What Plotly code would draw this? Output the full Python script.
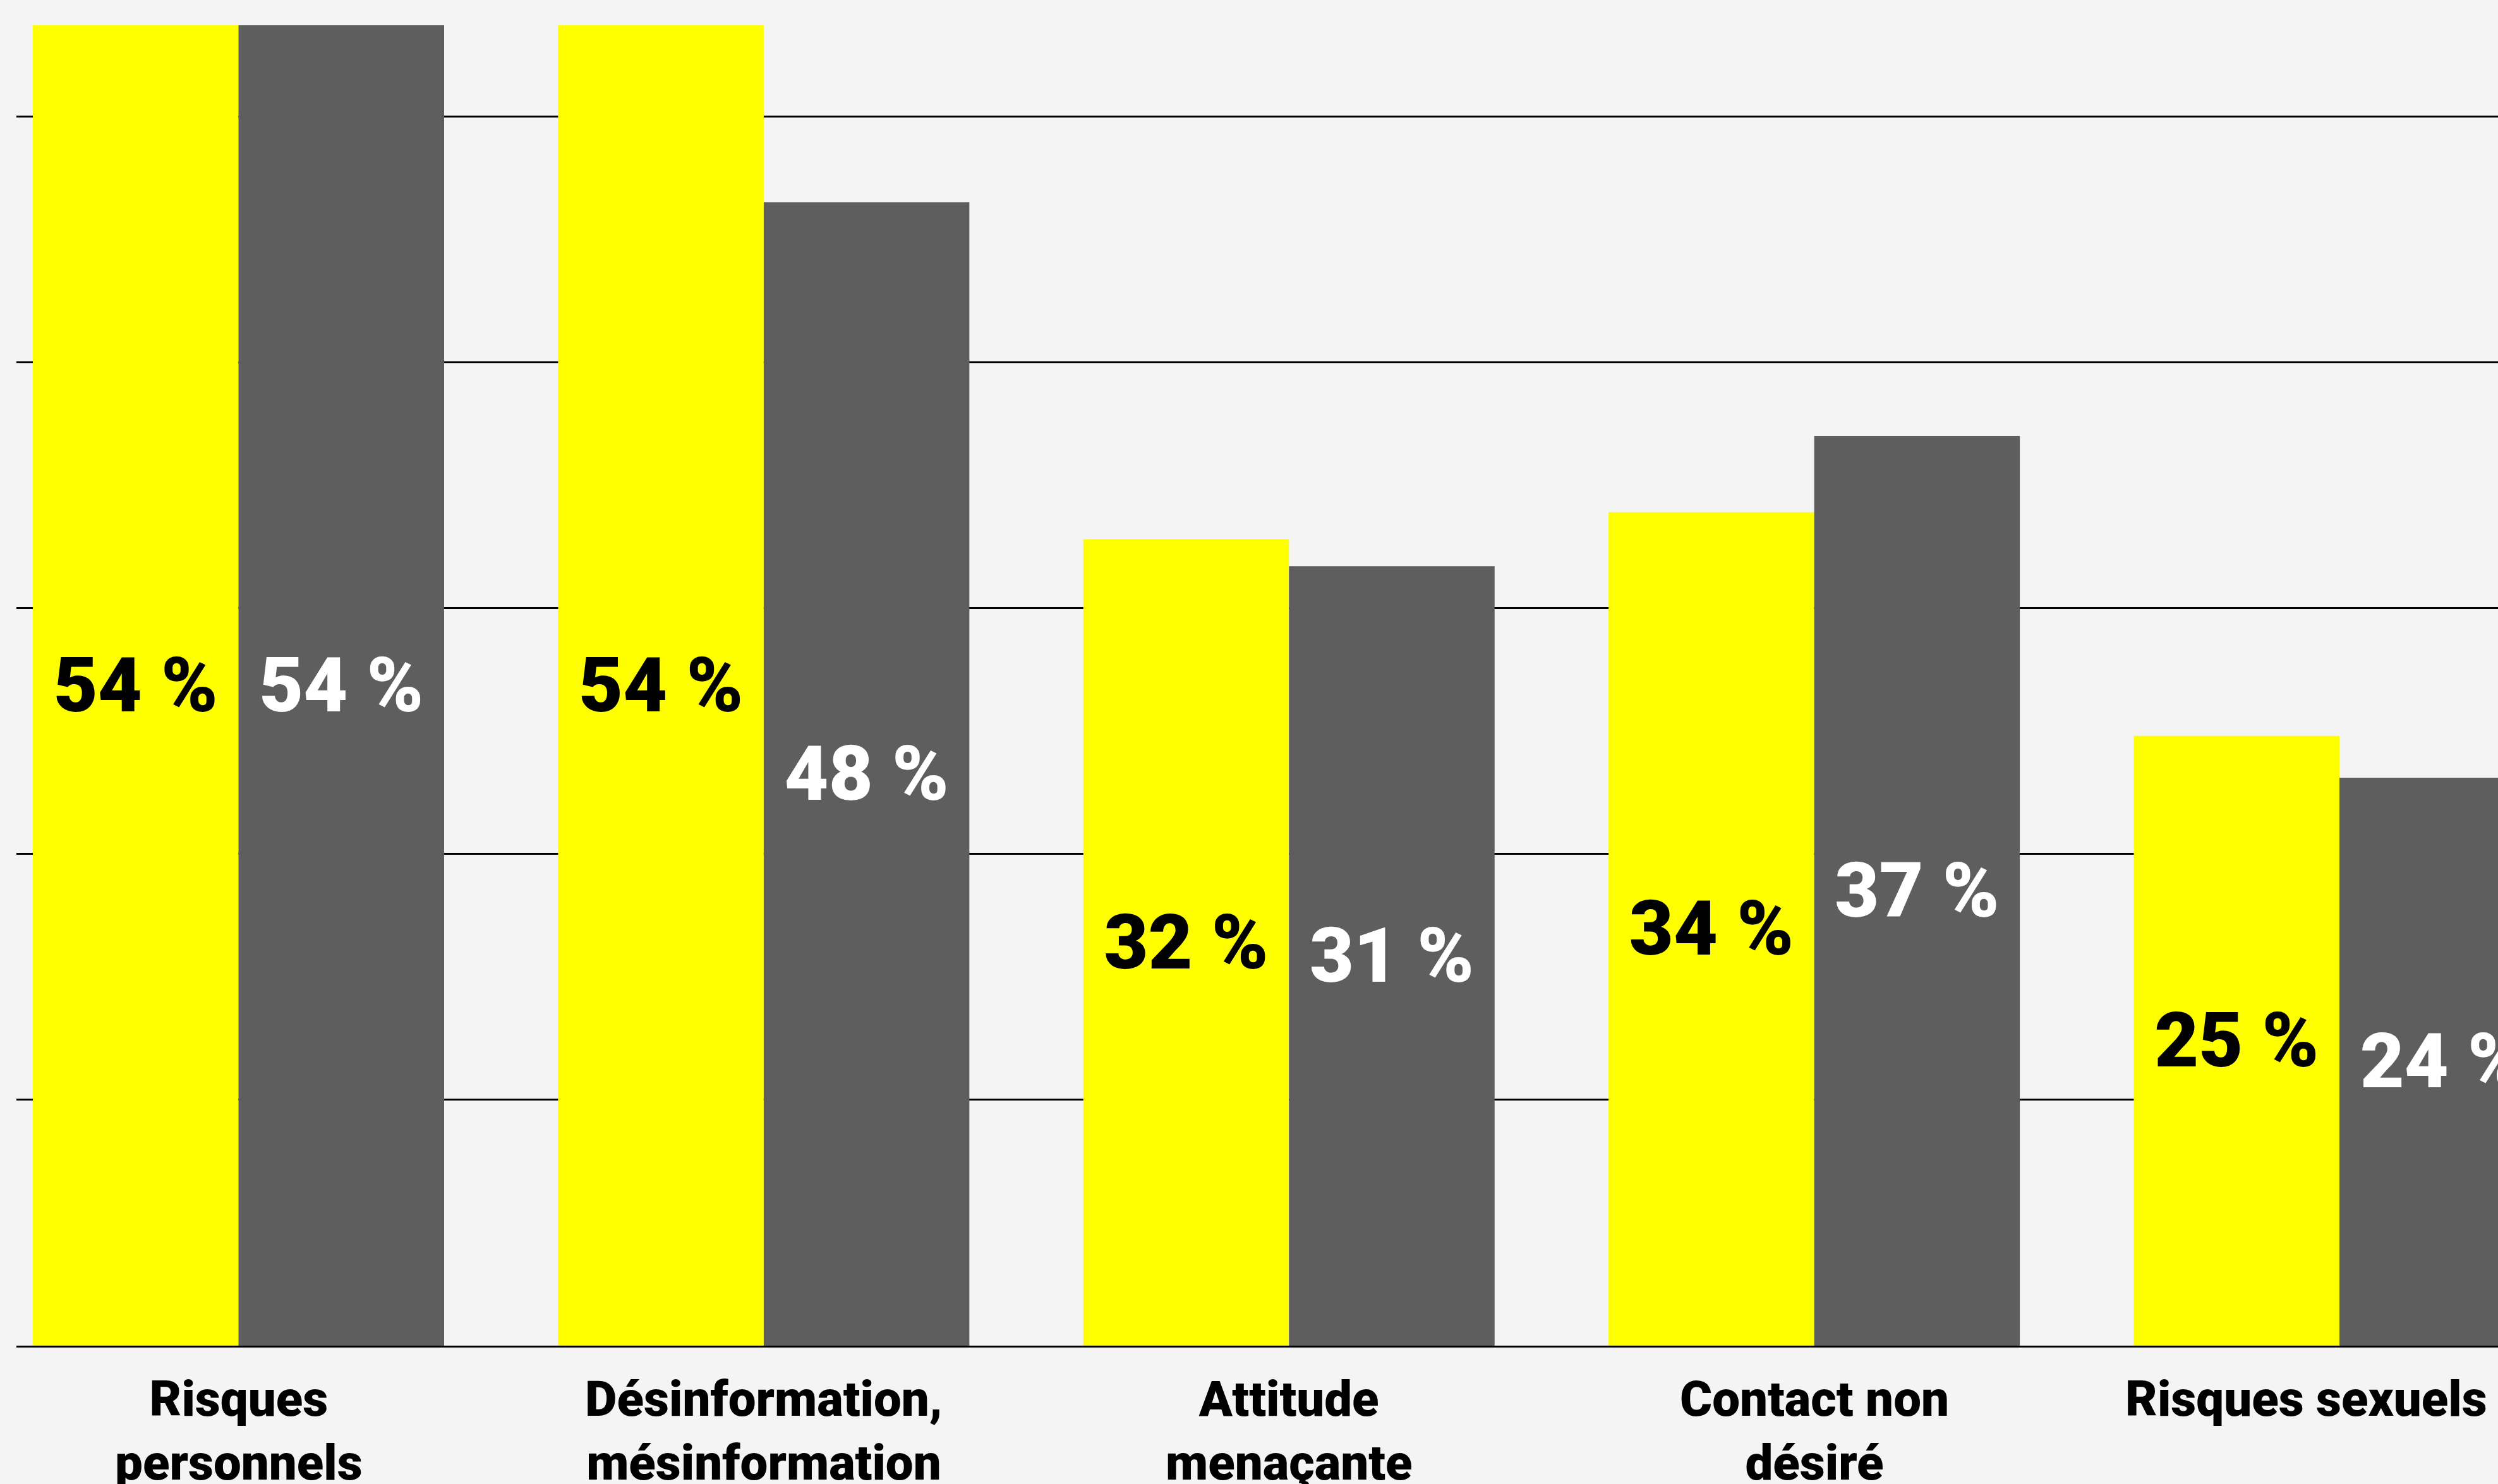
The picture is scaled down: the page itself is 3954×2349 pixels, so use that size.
import plotly.graph_objects as go

categories = ["Risques personnels", "Désinformation, mésinformation",
              "Attitude menaçante", "Contact non désiré", "Risques sexuels"]
tick_text = ["Risques<br>personnels", "Désinformation,<br>mésinformation",
             "Attitude<br>menaçante", "Contact non<br>désiré", "Risques sexuels"]
series_a = [53.7, 53.7, 32.8, 33.9, 24.8]
series_b = [53.7, 46.5, 31.7, 37.0, 23.1]
labels_a = ["54 %", "54 %", "32 %", "34 %", "25 %"]
labels_b = ["54 %", "48 %", "31 %", "37 %", "24 %"]

BG = "#f4f4f4"
YELLOW = "#ffff00"
GREY = "#5e5e5e"
FONT = "Roboto"

fig = go.Figure()
fig.add_trace(go.Bar(
    x=categories, y=series_a, text=labels_a, marker=dict(color=YELLOW, line=dict(width=0)),
    textposition="inside", insidetextanchor="middle", textangle=0,
    textfont=dict(family=FONT, size=121, color="#000000", weight=900),
    hoverinfo="skip", showlegend=False,
))
fig.add_trace(go.Bar(
    x=categories, y=series_b, text=labels_b, marker=dict(color=GREY, line=dict(width=0)),
    textposition="inside", insidetextanchor="middle", textangle=0,
    textfont=dict(family=FONT, size=121, color="#ffffff", weight=900),
    hoverinfo="skip", showlegend=False,
))

# category labels (last one kept inside the right edge, as in the reference)
n = len(categories)
for i, (cat, txt) in enumerate(zip(categories, tick_text)):
    last = i == n - 1
    fig.add_annotation(
        x=1 if last else cat, xref="paper" if last else "x",
        y=0, yref="y", yanchor="top", xanchor="right" if last else "center",
        xshift=-15 if last else 0, yshift=-37,
        text=txt, showarrow=False, align="center",
        font=dict(family=FONT, size=78, color="#000000", weight=900),
    )

fig.update_layout(
    width=3954, height=2349,
    margin=dict(l=26, r=0, t=0, b=219, pad=0),
    paper_bgcolor=BG, plot_bgcolor=BG,
    barmode="group", bargap=0.217, bargroupgap=0,
    font=dict(family=FONT, color="#000000"),
    xaxis=dict(
        type="category", range=[-0.4228, 4.3019], automargin=False,
        showline=True, linecolor="#000000", linewidth=3, layer="above traces",
        showgrid=False, zeroline=False, ticks="", showticklabels=False,
        fixedrange=True,
    ),
    yaxis=dict(
        range=[0, 54.73], automargin=False, dtick=10, tick0=0,
        showgrid=True, gridcolor="#000000", gridwidth=3,
        showticklabels=False, ticks="", zeroline=False, showline=False,
        fixedrange=True,
    ),
)

fig.write_html(
    "out.html",
    config={"displayModeBar": False, "responsive": False},
    post_script="document.body.style.margin='0';document.body.style.background='#f4f4f4';",
)
